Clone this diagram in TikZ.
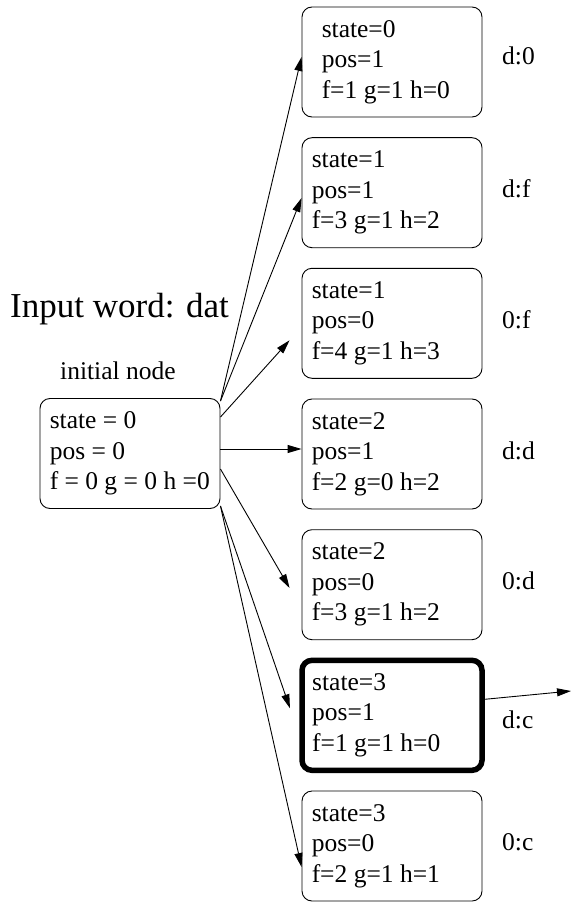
\documentclass[tikz,border=0pt]{standalone}
\usepackage{fontspec}
\setmainfont{Liberation Serif}
\usetikzlibrary{arrows.meta}
\begin{document}
\begin{tikzpicture}[x=1pt,y=-1pt,
  every node/.style={font=\fontsize{25.5}{30.5}\selectfont},
  stbox/.style={draw, line width=0.9pt, rounded corners=10pt,
    minimum width=180pt, minimum height=110pt, inner sep=0pt},
  goal/.style={stbox, line width=5.5pt},
  txt/.style={anchor=west, align=left, inner sep=0pt},
  lbl/.style={anchor=base west, inner sep=0pt},
  conn/.style={line width=0.9pt, -{Triangle[length=14pt,width=8pt]}},
]
\useasboundingbox (0,0) rectangle (571,904);

% headings
\node[anchor=base west, inner sep=0pt, font=\fontsize{35}{40}\selectfont] (title) at (10,317) {Input word: dat};
\node[lbl] (initlbl) at (60,379) {initial node};

% start state
\node[stbox] (init) at (130,453.5) {};
\node[txt] (tinit) at ([xshift=10pt]init.west) {state = 0\\pos = 0\\f = 0 g = 0 h =0};

% successor states
\node[stbox] (b1) at (392,62) {};
\node[stbox] (b2) at (392,192.7) {};
\node[stbox] (b3) at (392,323.3) {};
\node[stbox] (b4) at (392,454) {};
\node[stbox] (b5) at (392,584.7) {};
\node[goal]  (b6) at (392,715.3) {};
\node[stbox] (b7) at (392,846) {};

\node[txt] (t1) at ([xshift=20pt]b1.west) {state=0\\pos=1\\f=1 g=1 h=0};
\node[txt] (t2) at ([xshift=10pt]b2.west) {state=1\\pos=1\\f=3 g=1 h=2};
\node[txt] (t3) at ([xshift=10pt]b3.west) {state=1\\pos=0\\f=4 g=1 h=3};
\node[txt] (t4) at ([xshift=10pt]b4.west) {state=2\\pos=1\\f=2 g=0 h=2};
\node[txt] (t5) at ([xshift=10pt]b5.west) {state=2\\pos=0\\f=3 g=1 h=2};
\node[txt] (t6) at ([xshift=12.75pt]b6.west) {state=3\\pos=1\\f=1 g=1 h=0};
\node[txt] (t7) at ([xshift=10pt]b7.west) {state=3\\pos=0\\f=2 g=1 h=1};

% move labels
\node[lbl] (l1) at (502,65) {d:0};
\node[lbl] (l2) at (502,197) {d:f};
\node[lbl] (l3) at (502,328) {0:f};
\node[lbl] (l4) at (502,459) {d:d};
\node[lbl] (l5) at (502,589) {0:d};
\node[lbl] (l6) at (502,728) {d:c};
\node[lbl] (l7) at (502,850) {0:c};

% expansions
\draw[conn] ([yshift=-3pt]init.north east) -- ([yshift=5pt]b1.west);
\draw[conn] ([yshift=-3pt]init.north east) -- ([yshift=-5.3pt]b2.west);
\draw[conn] ([yshift=-19pt]init.north east) -- ([xshift=-12pt,yshift=-17pt]b3.west);
\draw[conn] ([yshift=4.5pt]init.east) -- ([yshift=5pt]b4.west);
\draw[conn] ([yshift=-15.5pt]init.east) -- ([xshift=-12pt,yshift=-3.3pt]b5.west);
\draw[conn] ([yshift=3pt]init.south east) -- ([xshift=-9.3pt,yshift=7pt]b6.west);
\draw[conn] ([yshift=3pt]init.south east) -- ([yshift=-21pt]b7.west);

\coordinate (next) at (571,691);
\draw[conn] ([yshift=16pt]b6.east) -- (next);
\end{tikzpicture}
\end{document}
